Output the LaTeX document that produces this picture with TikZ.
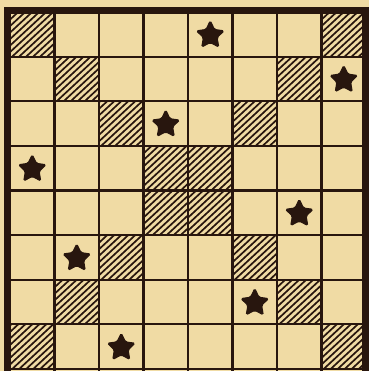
\documentclass[tikz,border=0pt]{standalone}
\usetikzlibrary{shapes.geometric}
\definecolor{paper}{RGB}{240,219,164}
\definecolor{ink}{RGB}{40,22,14}
\begin{document}
\begin{tikzpicture}[x=1pt,y=-1pt,
  gridline/.style={draw=ink,line width=2.2pt},
  frameline/.style={draw=ink,line width=7pt},
  hatchline/.style={draw=ink,line width=1.7pt},
  queen/.style={star,star points=5,star point ratio=2.0,fill=ink,draw=ink,
     line width=1pt,rounded corners=1.5pt,minimum size=29pt,inner sep=0pt}]
\useasboundingbox (0,0) rectangle (369,371);
\clip (0,0) rectangle (369,371);
\fill[paper] (0,0) rectangle (369,371);
\def\cw{44.5}\def\ch{44.625}
% hatched squares
\foreach \r/\c in {0/0,0/7,1/1,1/6,2/2,2/5,3/3,3/4,4/3,4/4,5/2,5/5,6/1,6/6,7/0,7/7}{
  \begin{scope}
    \pgfmathsetmacro{\xa}{10+\cw*\c}
    \pgfmathsetmacro{\ya}{12+\ch*\r}
    \pgfmathsetmacro{\yb}{\ya+\ch}
    \clip (\xa,\ya) rectangle (\xa+\cw,\yb);
    \foreach \k in {-56,-49,...,50}{
      \draw[hatchline] (\xa+\k,\yb+2) -- ++(56,-52);
    }
  \end{scope}
}
% grid
\foreach \i in {1,...,7}{
  \draw[gridline] (10+\cw*\i,10) -- (10+\cw*\i,375);
  \draw[gridline] (8,12+\ch*\i) -- (368,12+\ch*\i);
}
\draw[gridline] (8,369) -- (368,369);
% frame
\draw[frameline] (7.5,380) -- (7.5,10.5) -- (365.5,10.5) -- (365.5,380);
% queens
\foreach \r/\c in {0/4,1/7,2/3,3/0,4/6,5/1,6/5,7/2}{
  \node[queen] (q\r) at (10+\cw*\c+\cw/2,12+\ch*\r+\ch/2+1) {};
}
\end{tikzpicture}
\end{document}
